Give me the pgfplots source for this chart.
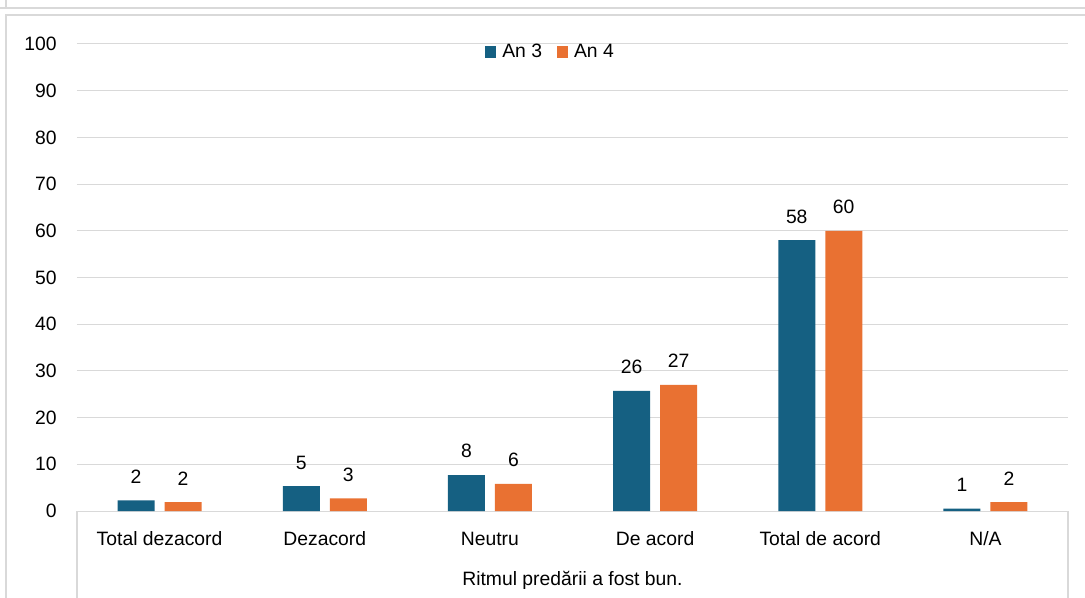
\documentclass[border=0pt]{standalone}
\usepackage{pgfplots}
\pgfplotsset{compat=1.18}
\usepackage{pgfplotstable}
\usepackage{fontspec}
\setmainfont{Liberation Sans}
\definecolor{anblue}{HTML}{156082}
\definecolor{anorange}{HTML}{E97132}
\definecolor{gridgray}{HTML}{D9D9D9}
\newcommand{\cf}{\fontsize{14.5pt}{17.4pt}\selectfont}
\pgfplotstableread{
x y lab
0 2.3 2
1 5.3 5
2 7.7 8
3 25.7 26
4 58.0 58
5 0.5 1
}\anthree
\pgfplotstableread{
x y lab
0 1.9 2
1 2.7 3
2 5.8 6
3 27.0 27
4 60.0 60
5 1.9 2
}\anfour
\begin{document}
\begin{tikzpicture}[font=\cf]
\path[use as bounding box] (0pt,0pt) rectangle (813.75pt,-448.5pt);
\draw[gridgray, line width=1pt] (0pt,-6pt) -- (813.75pt,-6pt);
\draw[gridgray, line width=1pt] (4.5pt,0pt) -- (4.5pt,-6pt);
\draw[gridgray, line width=1pt] (4.5pt,-448.5pt) -- (4.5pt,-11.25pt) -- (813.75pt,-11.25pt);
\begin{axis}[
  at={(57.75pt,-383.25pt)}, anchor=south west,
  scale only axis, width=743.25pt, height=350.25pt,
  xmin=-0.5, xmax=5.5, ymin=0, ymax=100,
  ytick={0,10,...,100},
  xtick={0,1,2,3,4,5},
  xticklabels={Total dezacord, Dezacord, Neutru, De acord, Total de acord, N/A},
  ymajorgrids, major grid style={gridgray, line width=0.75pt},
  axis line style={draw=none}, major tick length=0pt, tick style={draw=none},
  /pgf/number format/assume math mode=true,
  yticklabel style={font=\cf, anchor=east, inner sep=0pt, xshift=-15pt},
  xticklabel style={font=\cf, anchor=center, yshift=-21pt},
  xlabel={Ritmul predării a fost bun.},
  xlabel style={font=\cf, at={(axis description cs:0.5,0)}, anchor=center, yshift=-51.75pt},
  ybar=7.5pt, bar width=27.75pt,
  clip=false,
  nodes near coords={\pgfplotspointmeta},
  point meta=explicit symbolic,
  every node near coord/.append style={font=\cf, text=black, inner sep=0pt, anchor=south, yshift=12.5pt},
  legend style={at={(0.478,0.983)}, anchor=center, draw=none, fill=none, font=\cf,
    legend columns=2, /tikz/every even column/.append style={column sep=9pt}},
  legend image code/.code={\fill[#1] (0pt,-4.2pt) rectangle (8.4pt,4.2pt); \path (11pt,0pt);},
]
\addplot[fill=anblue, draw=none] table[x=x, y=y, meta=lab] {\anthree};
\addplot[fill=anorange, draw=none] table[x=x, y=y, meta=lab] {\anfour};
\legend{An 3, An 4}
\end{axis}
\draw[gridgray, line width=1pt] (57.75pt,-383.25pt) -- (57.75pt,-448.5pt);
\draw[gridgray, line width=1pt] (801pt,-383.25pt) -- (801pt,-448.5pt);
\end{tikzpicture}
\end{document}
